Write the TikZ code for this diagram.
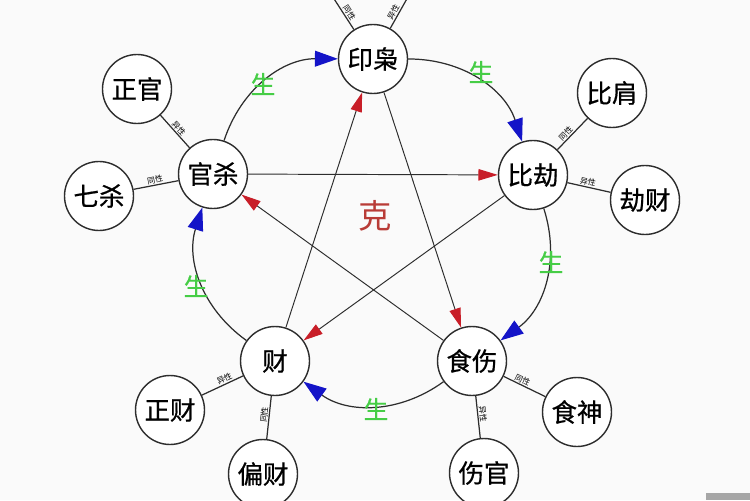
\documentclass[tikz,border=0pt]{standalone}
\usepackage{fontspec}
\setmainfont{Noto Sans CJK SC}
\newfontfamily\cjkheavy{Noto Sans CJK SC}[FakeBold=0.7]
\usetikzlibrary{arrows.meta}
\definecolor{bg}{RGB}{250,250,250}
\definecolor{arrblue}{RGB}{20,20,200}
\definecolor{arrred}{RGB}{200,30,40}
\definecolor{shengg}{RGB}{70,205,70}
\definecolor{kered}{RGB}{185,60,55}
\definecolor{linec}{RGB}{45,45,45}
\tikzset{
  mainnode/.style={circle, draw=linec, line width=0.8pt, fill=white, minimum size=1.38cm, inner sep=0pt,
    font=\cjkheavy\fontsize{14.5}{15}\selectfont},
  subnode/.style={mainnode},
  arcline/.style={draw=linec, line width=0.7pt, -{Triangle[length=13pt,width=9pt,color=arrblue]}},
  keline/.style={draw=linec, line width=0.55pt, -{Triangle[length=11pt,width=6.5pt,color=arrred]}},
  spoke/.style={draw=linec, line width=0.7pt},
  spokelbl/.style={font=\fontsize{4.5}{5}\selectfont, sloped, above, inner sep=0.5pt, midway},
  shenglbl/.style={text=shengg, font=\cjkheavy\fontsize{14}{14}\selectfont},
}
\begin{document}
\begin{tikzpicture}[x=0.02cm,y=-0.02cm]
\useasboundingbox (0,0) rectangle (750,500);
\fill[bg] (0,0) rectangle (750,500);
\clip (0,0) rectangle (750,500);
% free ends of the spokes that leave the page
\coordinate (tl) at (327,-12);
\coordinate (tr) at (413,-12);
% main nodes
\node[mainnode] (yin) at (373,59) {印枭};
\node[mainnode] (bi) at (533,175) {比劫};
\node[mainnode] (shi) at (472,361) {食伤};
\node[mainnode] (cai) at (275,361) {财};
\node[mainnode] (guan) at (213,174) {官杀};
% outer nodes
\node[subnode] (zhengguan) at (137,89) {正官};
\node[subnode] (qisha) at (99,196) {七杀};
\node[subnode] (bijian) at (612,93) {比肩};
\node[subnode] (jiecai) at (645,200) {劫财};
\node[subnode] (zhengcai) at (170,410) {正财};
\node[subnode] (piancai) at (263,474) {偏财};
\node[subnode] (shishen) at (577,412) {食神};
\node[subnode] (shangguan) at (484,473) {伤官};
% spokes
\draw[spoke] (yin) -- (tl) node[spokelbl, pos=0.33] {同性};
\draw[spoke] (yin) -- (tr) node[spokelbl, pos=0.33] {异性};
\draw[spoke] (guan) -- (zhengguan) node[spokelbl] {异性};
\draw[spoke] (guan) -- (qisha) node[spokelbl] {同性};
\draw[spoke] (bi) -- (bijian) node[spokelbl, pos=0.4] {同性};
\draw[spoke] (bi) -- (jiecai) node[spokelbl, pos=0.45] {异性};
\draw[spoke] (cai) -- (zhengcai) node[spokelbl, pos=0.4] {异性};
\draw[spoke] (cai) -- (piancai) node[spokelbl, pos=0.45] {同性};
\draw[spoke] (shi) -- (shishen) node[spokelbl, pos=0.4] {同性};
\draw[spoke] (shi) -- (shangguan) node[spokelbl, pos=0.45] {异性};
% sheng cycle arcs
\draw[arcline] (guan) to[bend left=36] (yin);
\draw[arcline] (yin) to[bend left=36] (bi);
\draw[arcline] (bi) to[bend left=36] (shi);
\draw[arcline] (shi) to[bend left=36] (cai);
\draw[arcline] (cai) to[bend left=36] (guan);
% ke star
\draw[keline] (guan) -- (bi);
\draw[keline] (bi) -- (cai);
\draw[keline] (cai) -- (yin);
\draw[keline] (yin) -- (shi);
\draw[keline] (shi) -- (guan);
% labels
\node[shenglbl] (s1) at (263,84) {生};
\node[shenglbl] (s2) at (481,72) {生};
\node[shenglbl] (s3) at (551,262) {生};
\node[shenglbl] (s4) at (376,409) {生};
\node[shenglbl] (s5) at (196,286) {生};
\node[text=kered, font=\fontsize{19}{19}\selectfont] (ke) at (375,216) {克};
% corner mark
\fill[gray!70] (706,493) rectangle (750,500);
\end{tikzpicture}
\end{document}
